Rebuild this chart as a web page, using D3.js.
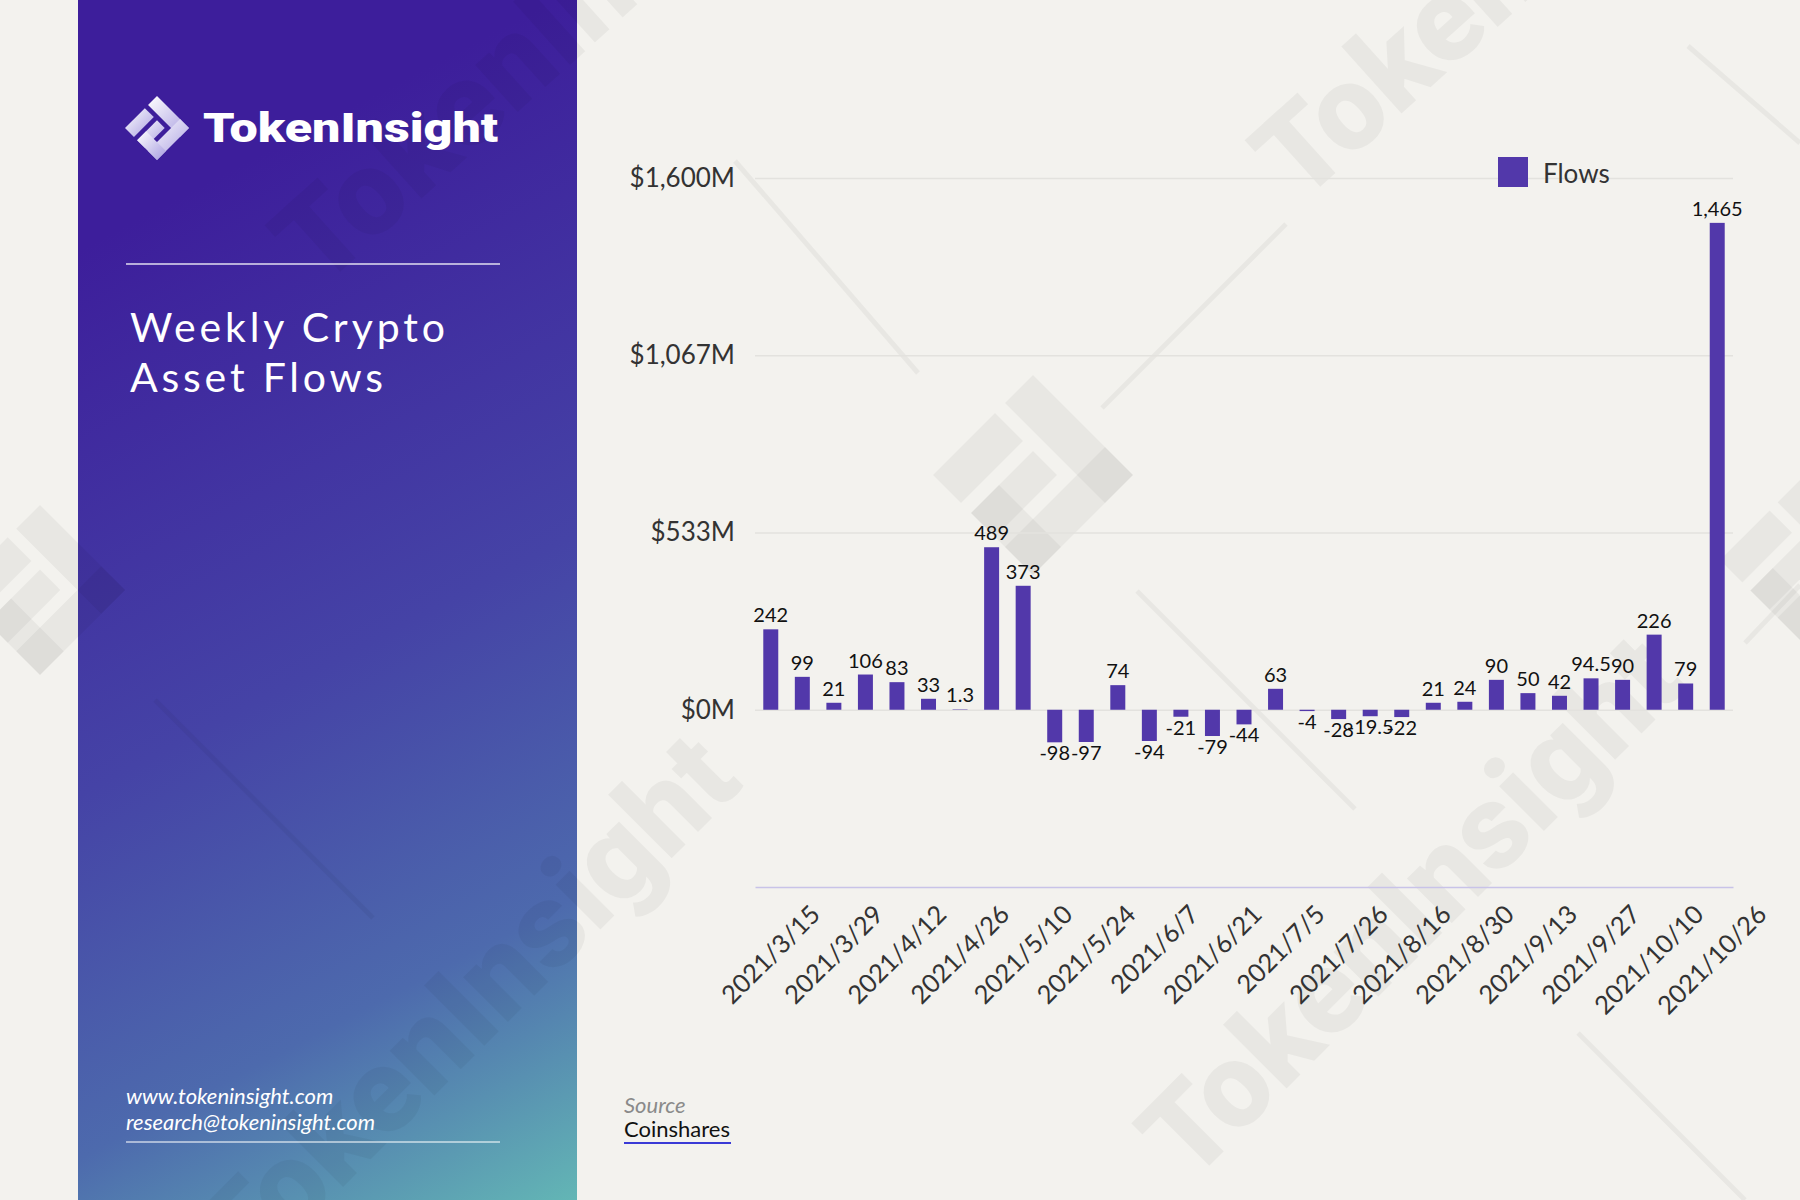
<!DOCTYPE html>
<html>
<head>
<meta charset="utf-8">
<script src="https://cdn.jsdelivr.net/npm/d3@7/dist/d3.min.js"></script>
<style>
  body { margin: 0; background: #f3f2ee; }
  svg { display: block; }
  .chart text { font-family: Lato, "Noto Sans", sans-serif; }
</style>
</head>
<body>
<svg id="chart" width="1800" height="1200"></svg>
<script>
// weekly dates (every other one is shown on the axis)
const weeks = [
    "2021/3/15", "2021/3/22", "2021/3/29", "2021/4/5", "2021/4/12", "2021/4/19",
    "2021/4/26", "2021/5/3", "2021/5/10", "2021/5/17", "2021/5/24", "2021/5/31",
    "2021/6/7", "2021/6/14", "2021/6/21", "2021/6/28", "2021/7/5", "2021/7/19",
    "2021/7/26", "2021/8/9", "2021/8/16", "2021/8/23", "2021/8/30", "2021/9/6",
    "2021/9/13", "2021/9/20", "2021/9/27", "2021/10/4", "2021/10/10", "2021/10/18",
    "2021/10/26"
];
// weekly flows, $M
const flows = [
    242, 99, 21, 106, 83, 33, 1.3, 489, 373, -98, -97, 74, -94, -21, -79, -44,
    63, -4, -28, -19.5, -22, 21, 24, 90, 50, 42, 94.5, 90, 226, 79, 1465
];
const yTicks = [0, 533.33, 1066.67, 1600];
const yTickLabels = ["$0M", "$533M", "$1,067M", "$1,600M"];
const yMin = -533.33, yMax = 1600;
const seriesName = "Flows";

const barColor = "#5238aa";
const faint = "rgba(0,0,0,0.042)";

const svg = d3.select("#chart");
const defs = svg.append("defs");

// ---- left panel ----
const grad = defs.append("linearGradient")
    .attr("id", "panelGrad")
    .attr("gradientUnits", "userSpaceOnUse")
    .attr("x1", 78).attr("y1", 250).attr("x2", 577).attr("y2", 1200);
[["0", "#3d1e9b"], ["0.45", "#4543a6"], ["0.75", "#4d6aad"], ["1", "#63b6b5"]]
    .forEach(s => grad.append("stop").attr("offset", s[0]).attr("stop-color", s[1]));

const logoGrad = defs.append("linearGradient")
    .attr("id", "logoGrad")
    .attr("x1", 0).attr("y1", 0).attr("x2", 1).attr("y2", 1);
logoGrad.append("stop").attr("offset", "0").attr("stop-color", "#ffffff");
logoGrad.append("stop").attr("offset", "1").attr("stop-color", "#a89de0");

svg.append("rect")
    .attr("x", 78).attr("y", 0)
    .attr("width", 499).attr("height", 1200)
    .attr("fill", "url(#panelGrad)");

// diamond logo made of bands, drawn in a rotated square frame
function drawLogo(g, cx, cy, r, fill) {
    const bands = [[0, 1, 0, 0.28], [0.72, 1, 0, 1], [0, 0.28, 0.38, 1],
                   [0.38, 0.62, 0.38, 1], [0.38, 1, 0.72, 1]];
    const pt = (s, t) => [cx + r * (s - t), cy - r + r * (s + t)];
    g.selectAll(null).data(bands).enter().append("polygon")
        .attr("points", b => [pt(b[0], b[2]), pt(b[1], b[2]), pt(b[1], b[3]), pt(b[0], b[3])]
            .map(p => p.join(",")).join(" "))
        .attr("fill", fill);
}

// ---- watermarks ----
const wm = svg.append("g").attr("class", "watermark");
const wmText = [
    {x: 320, y: 290, a: -42, anchor: "start"},
    {x: 1300, y: 205, a: -42, anchor: "start"},
    {x: 745, y: 785, a: -45, anchor: "end"},
    {x: 1190, y: 1185, a: -45, anchor: "start"}
];
wm.selectAll("text").data(wmText).enter().append("text")
    .attr("transform", d => `translate(${d.x},${d.y}) rotate(${d.a})`)
    .attr("text-anchor", d => d.anchor)
    .attr("font-family", "Roboto, sans-serif")
    .attr("font-weight", 900)
    .attr("font-size", 120)
    .attr("fill", faint)
    .text("TokenInsight");

const wmLines = [
    [735, 161, 918, 373], [1102, 408, 1286, 224], [1137, 591, 1355, 809],
    [1688, 46, 1800, 143], [1578, 1033, 1745, 1200], [155, 700, 373, 918],
    [1745, 643, 1800, 585]
];
wm.selectAll("line").data(wmLines).enter().append("line")
    .attr("x1", d => d[0]).attr("y1", d => d[1])
    .attr("x2", d => d[2]).attr("y2", d => d[3])
    .attr("stroke", faint)
    .attr("stroke-width", 5);

drawLogo(wm, 1033, 475, 100, faint);
drawLogo(wm, 40, 590, 85, faint);
drawLogo(wm, 1800, 560, 80, faint);

// ---- panel content ----
const panel = svg.append("g").attr("class", "panel");
drawLogo(panel, 157, 128, 32, "url(#logoGrad)");

panel.append("text")
    .attr("x", 203).attr("y", 142)
    .attr("font-family", "Roboto, sans-serif")
    .attr("font-weight", 900)
    .attr("font-size", 41)
    .attr("textLength", 295)
    .attr("lengthAdjust", "spacingAndGlyphs")
    .attr("fill", "#fff")
    .text("TokenInsight");

panel.append("line")
    .attr("x1", 126).attr("x2", 500).attr("y1", 264).attr("y2", 264)
    .attr("stroke", "#fff").attr("stroke-opacity", 0.85).attr("stroke-width", 1.5);

const titleLines = [
    {t: "Weekly Crypto", y: 342, len: 315},
    {t: "Asset Flows", y: 392, len: 253}
];
panel.selectAll("text.title").data(titleLines).enter().append("text")
    .attr("class", "title")
    .attr("x", 130).attr("y", d => d.y)
    .attr("font-family", "Lato, sans-serif")
    .attr("font-size", 41)
    .attr("textLength", d => d.len)
    .attr("lengthAdjust", "spacing")
    .attr("fill", "#fff")
    .text(d => d.t);

panel.selectAll("text.contact").data(["www.tokeninsight.com", "research@tokeninsight.com"])
    .enter().append("text")
    .attr("class", "contact")
    .attr("x", 126).attr("y", (d, i) => 1104 + i * 26)
    .attr("font-family", "Lato, sans-serif")
    .attr("font-style", "italic")
    .attr("font-size", 22)
    .attr("fill", "#fff")
    .text(d => d);

panel.append("line")
    .attr("x1", 126).attr("x2", 500).attr("y1", 1142).attr("y2", 1142)
    .attr("stroke", "#fff").attr("stroke-opacity", 0.7).attr("stroke-width", 1.5);

// ---- chart ----
const chart = svg.append("g").attr("class", "chart");
const plotLeft = 755, plotRight = 1733, plotTop = 178, plotBottom = 887;

const x = d3.scaleBand()
    .domain(weeks)
    .range([plotLeft, plotRight])
    .paddingInner(0.525)
    .paddingOuter(0.2625);

const y = d3.scaleLinear()
    .domain([yMin, yMax])
    .range([plotBottom, plotTop]);

const yAxis = chart.append("g")
    .attr("transform", `translate(${plotLeft},0)`)
    .call(d3.axisLeft(y)
        .tickValues(yTicks)
        .tickFormat((d, i) => yTickLabels[i])
        .tickSize(-(plotRight - plotLeft))
        .tickPadding(20));
yAxis.select(".domain").remove();
yAxis.selectAll(".tick line").attr("stroke", "#e3e2de").attr("stroke-width", 1.5);
yAxis.selectAll(".tick text")
    .attr("font-size", 26)
    .attr("fill", "#333");

const xAxis = chart.append("g")
    .attr("transform", `translate(0,${plotBottom})`)
    .call(d3.axisBottom(x)
        .tickValues(weeks.filter((d, i) => i % 2 === 0))
        .tickSize(0));
xAxis.select(".domain").attr("stroke", "#c8c3e8").attr("stroke-width", 1.5);
xAxis.selectAll(".tick text")
    .attr("x", 0).attr("y", 0).attr("dy", 0)
    .attr("transform", "translate(51,29) rotate(-45)")
    .attr("text-anchor", "end")
    .attr("font-size", 25.5)
    .attr("fill", "#333");

const data = weeks.map((w, i) => ({week: w, value: flows[i]}));

chart.selectAll("rect.bar").data(data).enter().append("rect")
    .attr("class", "bar")
    .attr("x", d => x(d.week))
    .attr("width", x.bandwidth())
    .attr("y", d => y(Math.max(0, d.value)))
    .attr("height", d => Math.abs(y(d.value) - y(0)))
    .attr("fill", barColor);

const fmt = v => d3.format(",")(v).replace("\u2212", "-");
chart.selectAll("text.val").data(data).enter().append("text")
    .attr("class", "val")
    .attr("x", d => x(d.week) + x.bandwidth() / 2)
    .attr("y", d => d.value >= 0 ? y(d.value) - 7 : y(d.value) + 18)
    .attr("text-anchor", "middle")
    .attr("font-size", 20)
    .attr("fill", "#111")
    .text(d => fmt(d.value));

// legend
const legend = chart.append("g").attr("transform", "translate(1498,157)");
legend.append("rect").attr("width", 30).attr("height", 30).attr("fill", barColor);
legend.append("text")
    .attr("x", 45).attr("y", 26)
    .attr("font-size", 26)
    .attr("fill", "#333")
    .text(seriesName);

// source
chart.append("text")
    .attr("x", 624).attr("y", 1113)
    .attr("font-size", 22).attr("font-style", "italic")
    .attr("fill", "#8a8a8a")
    .text("Source");
chart.append("text")
    .attr("x", 624).attr("y", 1137)
    .attr("font-size", 22)
    .attr("fill", "#111")
    .text("Coinshares");
chart.append("line")
    .attr("x1", 624).attr("x2", 731).attr("y1", 1143).attr("y2", 1143)
    .attr("stroke", "#3a3ad6").attr("stroke-width", 2);
</script>
</body>
</html>
